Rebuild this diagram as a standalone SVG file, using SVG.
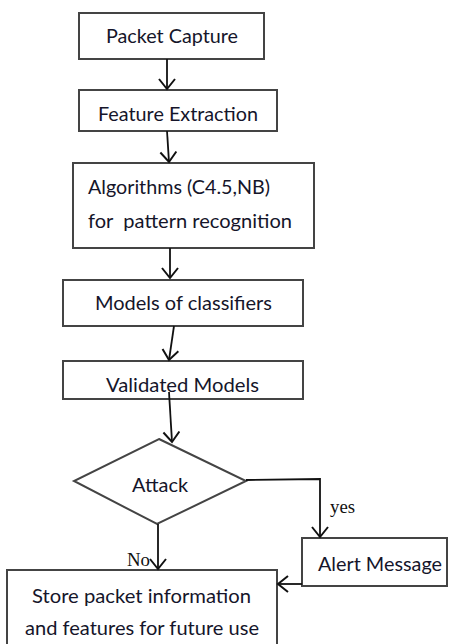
<svg xmlns="http://www.w3.org/2000/svg" width="452" height="644" viewBox="0 0 452 644">
<style>
.box{fill:#fff;stroke:#444;stroke-width:2}
.t{font-family:Lato,"Open Sans","Liberation Sans",sans-serif;font-size:20px;fill:#15152a}
.s{font-family:"Liberation Serif",serif;font-size:18px;fill:#111}
.c{fill:none;stroke:#111;stroke-width:1.8}
</style>
<defs>
<marker id="ah" markerUnits="userSpaceOnUse" markerWidth="20" markerHeight="20" refX="11" refY="9" orient="auto" viewBox="0 0 20 20">
<path d="M1,1 L11,9 L1,17" fill="none" stroke="#111" stroke-width="2"/>
</marker>
</defs>
<rect width="452" height="644" fill="#fff"/>
<g id="n1"><rect class="box" x="79" y="13" width="185" height="46"/><text class="t" x="106" y="43" textLength="132" lengthAdjust="spacingAndGlyphs">Packet Capture</text></g>
<g id="n2"><rect class="box" x="79" y="90" width="198" height="41"/><text class="t" x="98" y="121" textLength="160" lengthAdjust="spacingAndGlyphs">Feature Extraction</text></g>
<g id="n3"><rect class="box" x="73" y="163" width="241" height="85"/><text class="t" x="88" y="194" textLength="182" lengthAdjust="spacingAndGlyphs">Algorithms (C4.5,NB)</text><text class="t" x="88" y="228" textLength="204" lengthAdjust="spacingAndGlyphs" xml:space="preserve">for  pattern recognition</text></g>
<g id="n4"><rect class="box" x="63" y="280" width="240" height="46"/><text class="t" x="95" y="310" textLength="177" lengthAdjust="spacingAndGlyphs">Models of classifiers</text></g>
<g id="n5"><rect class="box" x="63" y="361" width="240" height="38"/><text class="t" x="106" y="392" textLength="153" lengthAdjust="spacingAndGlyphs">Validated Models</text></g>
<g id="n6"><polygon class="box" points="159,439 246,481 157,524 74,481"/><text class="t" x="132" y="492" textLength="56" lengthAdjust="spacingAndGlyphs">Attack</text></g>
<g id="n7"><rect class="box" x="302" y="538" width="145" height="48"/><text class="t" x="318" y="571" textLength="124" lengthAdjust="spacingAndGlyphs">Alert Message</text></g>
<g id="n8"><rect class="box" x="7" y="570" width="270" height="80"/><text class="t" x="32" y="603" textLength="219" lengthAdjust="spacingAndGlyphs">Store packet information</text><text class="t" x="25" y="635" textLength="234" lengthAdjust="spacingAndGlyphs">and features for future use</text></g>
<g id="connectors">
<line class="c" x1="167" y1="59" x2="167" y2="89" marker-end="url(#ah)"/>
<line class="c" x1="167" y1="131" x2="169" y2="162" marker-end="url(#ah)"/>
<line class="c" x1="170" y1="248" x2="170" y2="278" marker-end="url(#ah)"/>
<line class="c" x1="174" y1="326" x2="169" y2="360" marker-end="url(#ah)"/>
<line class="c" x1="169" y1="392" x2="172" y2="442" marker-end="url(#ah)"/>
<polyline class="c" points="246,480 320,479 320,537" marker-end="url(#ah)"/>
<line class="c" x1="158" y1="524" x2="158" y2="569" marker-end="url(#ah)"/>
<line class="c" x1="302" y1="584" x2="278" y2="584" marker-end="url(#ah)"/>
<text class="s" x="330" y="513" textLength="25" lengthAdjust="spacingAndGlyphs">yes</text>
<text class="s" x="127" y="566" textLength="23" lengthAdjust="spacingAndGlyphs">No</text>
</g>
</svg>
